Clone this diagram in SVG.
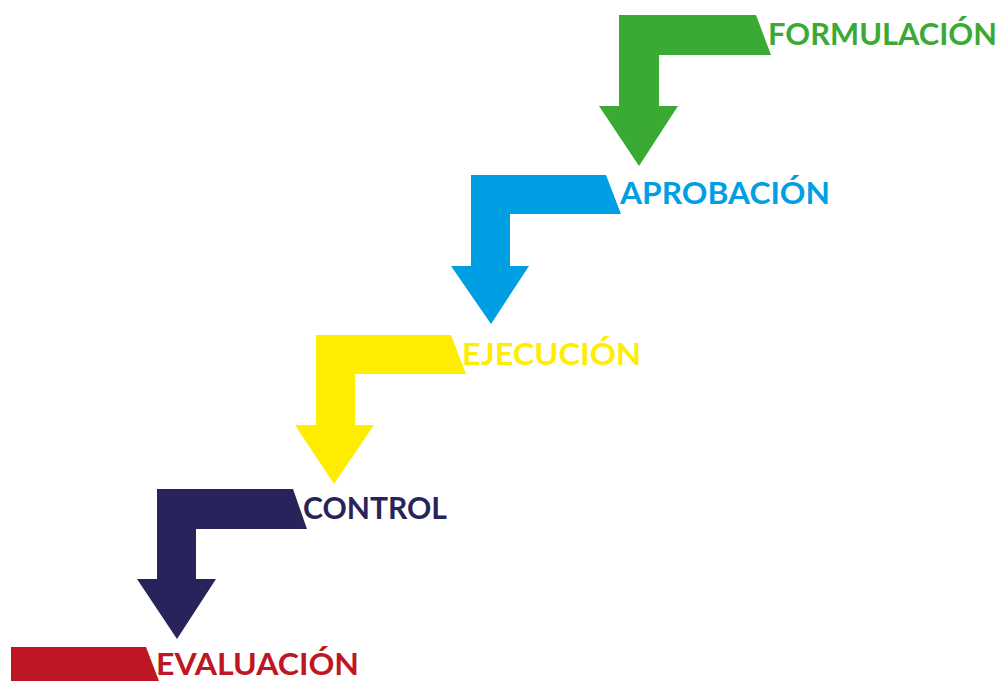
<svg xmlns="http://www.w3.org/2000/svg" width="1002" height="681" viewBox="0 0 1002 681">
  <style>
    .lbl { font-family: "Lato", "Open Sans", "Liberation Sans", sans-serif; font-weight: bold; font-size: 30px; }
    .green { fill: #3AAA35; }
    .blue { fill: #009FE3; }
    .yellow { fill: #FFED00; }
    .navy { fill: #29235C; }
    .red { fill: #BE1622; }
  </style>
  <rect width="1002" height="681" fill="#FFFFFF"/>
  <g id="connectors">
    <path id="arrow-formulacion" class="green" d="M619,15 L756,15 L771,55 L659,55 L659,106 L678,106 L639,166 L599,106 L619,106 Z"/>
    <path id="arrow-aprobacion" class="blue" d="M471,175 L606,175 L621,214 L510,214 L510,266 L529,266 L491,324 L451,266 L471,266 Z"/>
    <path id="arrow-ejecucion" class="yellow" d="M316,335 L451,335 L466,374 L355,374 L355,425 L374,425 L334,484 L295,425 L316,425 Z"/>
    <path id="arrow-control" class="navy" d="M157,489 L293,489 L307,529 L196,529 L196,579 L216,579 L177,639 L137,579 L157,579 Z"/>
  </g>
  <g id="node-formulacion">
    <text class="lbl green" x="768" y="45" textLength="229" lengthAdjust="spacingAndGlyphs">FORMULACIÓN</text>
  </g>
  <g id="node-aprobacion">
    <text class="lbl blue" x="620" y="204" textLength="210" lengthAdjust="spacingAndGlyphs">APROBACIÓN</text>
  </g>
  <g id="node-ejecucion">
    <text class="lbl yellow" x="462" y="365" textLength="179" lengthAdjust="spacingAndGlyphs">EJECUCIÓN</text>
  </g>
  <g id="node-control">
    <text class="lbl navy" x="303" y="519" textLength="144" lengthAdjust="spacingAndGlyphs">CONTROL</text>
  </g>
  <g id="node-evaluacion">
    <path class="red" d="M11,647 L146,647 L159,681 L11,681 Z"/>
    <text class="lbl red" x="156" y="674.5" textLength="203" lengthAdjust="spacingAndGlyphs">EVALUACIÓN</text>
  </g>
</svg>
